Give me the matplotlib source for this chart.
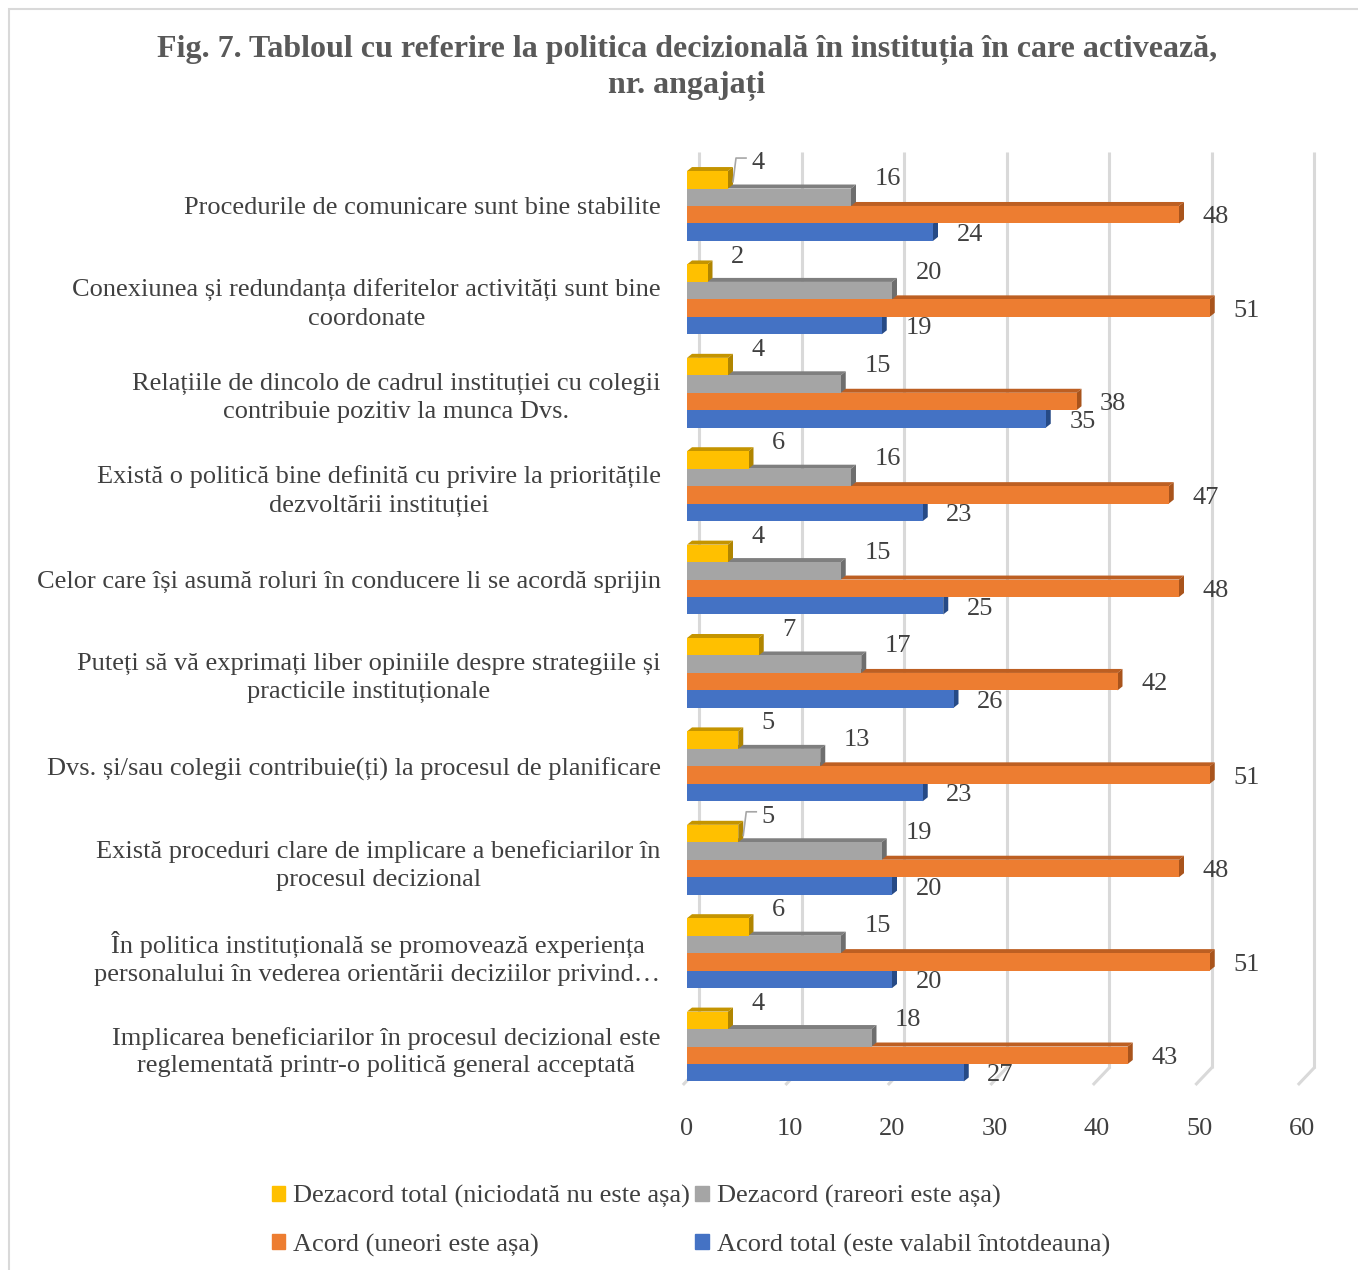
import numpy as np
import matplotlib
matplotlib.use('Agg')
import matplotlib.pyplot as plt
from matplotlib.patches import Polygon, Rectangle

plt.rcParams['font.family'] = ['Liberation Serif', 'DejaVu Serif']

# Categories, top to bottom as in the figure
categories = [
    'Procedurile de comunicare sunt bine stabilite',
    'Conexiunea și redundanța diferitelor activități sunt bine\ncoordonate',
    'Relațiile de dincolo de cadrul instituției cu colegii\ncontribuie pozitiv la munca Dvs.',
    'Există o politică bine definită cu privire la prioritățile\ndezvoltării instituției',
    'Celor care își asumă roluri în conducere li se acordă sprijin',
    'Puteți să vă exprimați liber opiniile despre strategiile și\npracticile instituționale',
    'Dvs. și/sau colegii contribuie(ți) la procesul de planificare',
    'Există proceduri clare de implicare a beneficiarilor în\nprocesul decizional',
    'În politica instituțională se promovează experiența\npersonalului în vederea orientării deciziilor privind…',
    'Implicarea beneficiarilor în procesul decizional este\nreglementată printr-o politică general acceptată',
]

dezacord_total = [4, 2, 4, 6, 4, 7, 5, 5, 6, 4]
dezacord = [16, 20, 15, 16, 15, 17, 13, 19, 15, 18]
acord = [48, 51, 38, 47, 48, 42, 51, 48, 51, 43]
acord_total = [24, 19, 35, 23, 25, 26, 23, 20, 20, 27]

series_names = ['Dezacord total (niciodată nu este așa)', 'Dezacord (rareori este așa)',
                'Acord (uneori este așa)', 'Acord total (este valabil întotdeauna)']
front_colors = ['#FFC000', '#A5A5A5', '#ED7D31', '#4472C4']
top_colors = ['#C49400', '#7F7F7F', '#BD5F22', '#2F5597']
side_colors = ['#B08500', '#6E6E6E', '#A9541C', '#264A86']
label_dy = [12, 13, -2, -2]  # label vertical offsets (points)
leader_idx = [0, 7]          # yellow labels that have a leader line

text_col = '#404040'
grid_col = '#D9D9D9'
fs = 19

fig = plt.figure(figsize=(13.58, 12.70), dpi=100)
W, H = 1358, 1270
ax = fig.add_axes([687 / W, 1 - 1082 / H, (1302 - 687) / W, (1082 - 152) / H])

# pixel-based helpers for the fake depth
px_x = 60 / (1302 - 687)   # data units per px in x
y_top, y_bot = -0.578, 9.38
px_y = (y_bot - y_top) / (1082 - 152)
ax.set_xlim(0, 60)
ax.set_ylim(y_bot, y_top)

# back wall gridlines with floor diagonals
gdx = 12 * px_x
gdy = 14 * px_y
for t in range(0, 70, 10):
    ax.plot([t + gdx, t + gdx], [y_top, y_bot - gdy], color=grid_col, lw=2.2,
            clip_on=False, zorder=0, solid_capstyle='butt')
    ax.plot([t + gdx, t - 0.3], [y_bot - gdy, y_bot + 0.02], color=grid_col, lw=2.2,
            clip_on=False, zorder=0)

series = [dezacord_total, dezacord, acord, acord_total]
h = 0.187
dx = 5 * px_x
dy = 4 * px_y
y = np.arange(len(categories))

for s in range(4):
    offs = (s - 1.5) * h
    z = 10 - s * 2
    for i, v in enumerate(series[s]):
        yc = y[i] + offs
        top = yc - h / 2
        bot = yc + h / 2
        ax.add_patch(Rectangle((0, top), v, h, facecolor=front_colors[s],
                               edgecolor='none', zorder=z + 1))
        ax.add_patch(Polygon([(0, top), (v, top), (v + dx, top - dy), (dx, top - dy)],
                             closed=True, facecolor=top_colors[s], edgecolor='none', zorder=z))
        ax.add_patch(Polygon([(v, top), (v, bot), (v + dx, bot - dy), (v + dx, top - dy)],
                             closed=True, facecolor=side_colors[s], edgecolor='none', zorder=z))
        ax.annotate(str(v), (v, yc), xytext=(17, label_dy[s]),
                    textcoords='offset points', ha='left', va='center',
                    fontsize=fs, color=text_col, zorder=20)
        if s == 0 and i in leader_idx:
            xs = [v + dx, v + dx + 3 * px_x, v + dx + 13 * px_x]
            ys = [yc + 2 * px_y, top - 13 * px_y, top - 13 * px_y]
            ax.plot(xs, ys, color='#A6A6A6', lw=1.2, zorder=20)

ax.set_yticks(y)
ax.set_yticklabels(categories, fontsize=fs, color=text_col, linespacing=1.35)
for t in ax.get_yticklabels():
    t.set_multialignment('center')
ax.set_xticks(range(0, 70, 10))
ax.set_xticklabels([str(t) for t in range(0, 70, 10)], fontsize=fs, color=text_col)
ax.tick_params(axis='y', length=0, pad=19)
ax.tick_params(axis='x', length=0, pad=26)
for sp in ax.spines.values():
    sp.set_visible(False)

fig.text(687 / W, 1 - 68 / H,
         'Fig. 7. Tabloul cu referire la politica decizională în instituția în care activează,\nnr. angajați',
         ha='center', va='center', fontsize=23, fontweight='bold', color='#595959',
         linespacing=1.3)

handles = [Rectangle((0, 0), 1, 1, color=c) for c in front_colors]
order = [0, 2, 1, 3]
leg = fig.legend([handles[k] for k in order], [series_names[k] for k in order],
                 loc='center', bbox_to_anchor=(691 / W, 1 - 1221 / H), ncol=2,
                 frameon=False, fontsize=fs, handlelength=0.5, handleheight=0.5,
                 handletextpad=0.3, columnspacing=0.2, labelspacing=0.95)
for t in leg.get_texts():
    t.set_color(text_col)

# chart border
fig.patches.append(Rectangle((9 / W, -0.01), 1.0, 1 - 9 / H + 0.01, transform=fig.transFigure,
                             fill=False, edgecolor='#D9D9D9', lw=1.5))

fig.savefig('out.png', dpi=100)
